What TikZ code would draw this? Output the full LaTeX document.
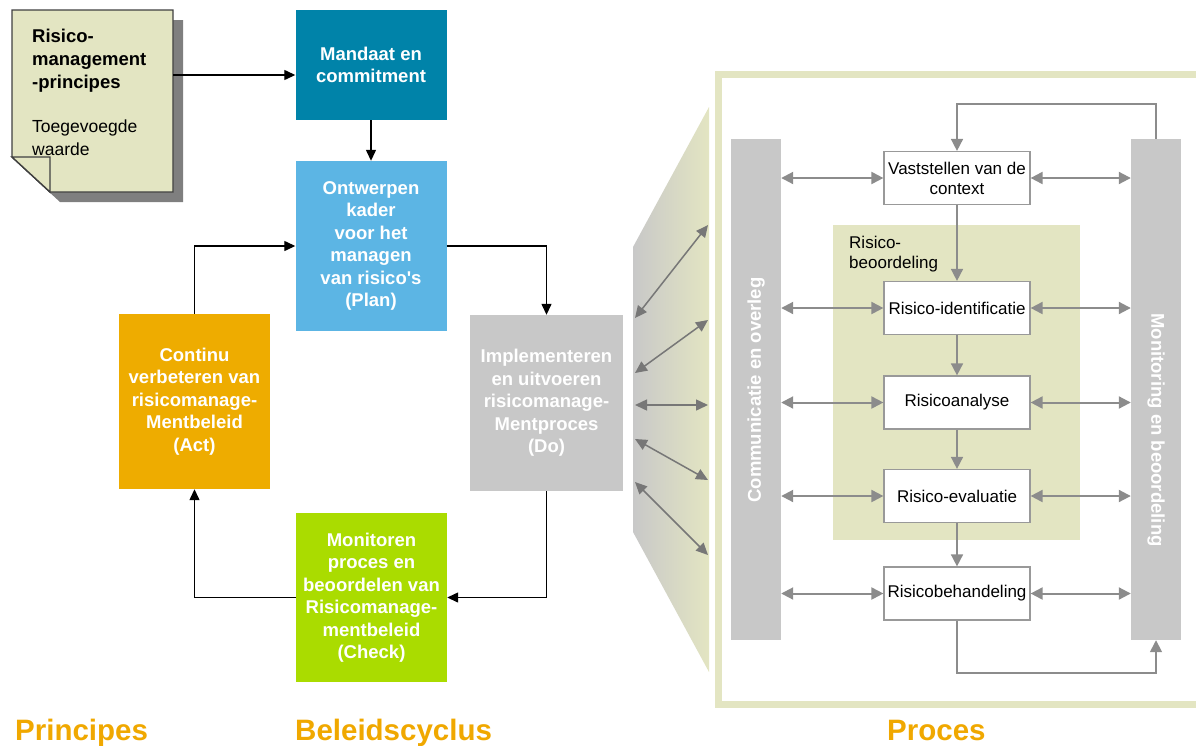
\documentclass[tikz,border=0pt]{standalone}
\usepackage{fontspec}
\setmainfont{Liberation Sans}
\usetikzlibrary{arrows.meta,positioning,calc}

\definecolor{colorMAND}{HTML}{0083A9}
\definecolor{colorPLAN}{HTML}{5CB5E4}
\definecolor{colorACT}{HTML}{EEAC00}
\definecolor{colorDO}{HTML}{C8C8C8}
\definecolor{colorCHECK}{HTML}{AADC00}
\definecolor{colorBEIGE}{HTML}{E3E5C2}
\definecolor{colorLABEL}{HTML}{F0A800}
\definecolor{colorSHADOW}{HTML}{7F7F7F}
\definecolor{colorARR}{HTML}{8C8C8C}
\definecolor{colorBORDER}{HTML}{999999}
\colorlet{colorBAR}{colorDO}
\tikzset{
   every path/.style={>={Triangle[length=11pt,width=10pt]}},
   cyc/.style={->,color=black,line width=1.3pt},
   bi/.style={<->,color=colorARR,line width=2pt,>={Triangle[length=12pt,width=12pt]}},
   fl/.style={->,color=colorARR,line width=1.6pt,>={Triangle[length=12pt,width=12pt]}},
   fan/.style={<->,color=colorARR!85!black,line width=1.5pt,>={Triangle[length=12pt,width=11pt]}},
   note/.style={fill=colorBEIGE,draw=black!75,line width=1.4pt,line join=miter},
   cbox/.style={inner sep=0pt,align=center,text=white,minimum width=151pt,
     font=\bfseries\fontsize{18.5}{22.5}\selectfont},
   pbox/.style={draw=colorBORDER,line width=1.2pt,fill=white,minimum width=146pt,
     minimum height=53pt,inner sep=0pt,align=center,font=\fontsize{17}{20}\selectfont},
   bar/.style={fill=colorBAR,minimum width=50pt,minimum height=501pt,inner sep=0pt},
   bartext/.style={text=white,inner sep=0pt,font=\bfseries\fontsize{18.5}{20}\selectfont},
   lbl/.style={anchor=base west,inner sep=0pt,text=colorLABEL,
     font=\bfseries\fontsize{29.5}{32}\selectfont},
 }
\newcommand{\dbi}[2]{\draw[bi] (#1) -- (#2)}
\newcommand{\dfl}[2]{\draw[fl] (#1) -- (#2)}
\newcommand{\dfan}[2]{\draw[fan] (#1) -- (#2)}

\begin{document}
\begin{tikzpicture}[x=1pt,y=-1pt]
      \useasboundingbox (0,0) rectangle (1196,745);

      % principes
      \fill[colorSHADOW] (22,20) -- (183,20) -- (183,202) -- (60,202) -- (22,167) -- cycle;
      \draw[note] (12,10) -- (173,10) -- (173,192) -- (50,192) -- (12,157) -- cycle;
      \draw[note] (12,157) -- (50,157) -- (50,192) -- cycle;
      \node[anchor=north west,inner sep=0pt,align=left,font=\bfseries\fontsize{18.5}{23}\selectfont]
        (PRINH) at (32,29) {Risico-\\management\\-principes};
      \node[anchor=north west,inner sep=0pt,align=left,font=\fontsize{17.5}{23}\selectfont]
        (PRINW) at (32,120) {Toegevoegde\\waarde};
      \coordinate (PRINE) at (173,75);

      % beleidscyclus
      \node[cbox,fill=colorMAND,minimum height=110pt] (MAND) at (371,65) {Mandaat en\\commitment};
      \node[cbox,fill=colorPLAN,minimum height=170pt] (PLAN) at (371,246)
        {Ontwerpen\\kader\\voor het\\managen\\van risico\textquotesingle s\\(Plan)};
      \node[cbox,fill=colorDO,minimum height=176pt,minimum width=153pt] (DO) at (546.5,403)
        {Implementeren\\en uitvoeren\\risicomanage-\\Mentproces\\(Do)};
      \node[cbox,fill=colorCHECK,minimum height=169pt] (CHECK) at (371.5,597.5)
        {Monitoren\\proces en\\beoordelen van\\Risicomanage-\\mentbeleid\\(Check)};
      \node[cbox,fill=colorACT,minimum height=175pt] (ACT) at (194.5,401.5)
        {Continu\\verbeteren van\\risicomanage-\\Mentbeleid\\(Act)};
      \draw[cyc] (PRINE) -- (MAND.west |- PRINE);
      \draw[cyc] (MAND) -- (PLAN);
      \draw[cyc] (PLAN.east) -| (DO.north);
      \draw[cyc] (DO.south) |- (CHECK.east);
      \draw[cyc] (CHECK.west) -| (ACT.south);
      \draw[cyc] (ACT.north) |- (PLAN.west);

      % uitvergroting naar het proces
      \shade[left color=colorBAR,right color=colorBEIGE] (633,247) -- (709,107) -- (709,672) -- (633,532) -- cycle;
      \coordinate (FL1) at (635,318); \coordinate (FR1) at (708,225);
      \coordinate (FL2) at (635,373); \coordinate (FR2) at (708,320);
      \coordinate (FL3) at (635,405); \coordinate (FR3) at (708,405);
      \coordinate (FL4) at (635,439); \coordinate (FR4) at (708,480);
      \coordinate (FL5) at (635,482); \coordinate (FR5) at (708,555);
      \dfan{FL1}{FR1};
      \dfan{FL2}{FR2};
      \dfan{FL3}{FR3};
      \dfan{FL4}{FR4};
      \dfan{FL5}{FR5};

      % proces
      \draw[colorBEIGE,line width=6.5pt] (1200,74.5) -- (718.5,74.5) -- (718.5,704.5) -- (1200,704.5);
      \node[fill=colorBEIGE,minimum width=247pt,minimum height=315pt,inner sep=0pt] (BEOORD) at (956.5,382.5) {};
      \node[anchor=north west,inner sep=0pt,align=left,font=\fontsize{17}{20}\selectfont]
        (BEOORDT) at (849,236) {Risico-\\beoordeling};

      \node[bar] (COMM) at (756,389.5) {};
      \node[bar] (MONI) at (1156,389.5) {};
      \node[bartext,rotate=90] (COMMT) at (756,390) {Communicatie en overleg};
      \node[bartext,rotate=-90] (MONIT) at (1156,430) {Monitoring en beoordeling};

      \node[pbox] (VAST) at (957,178) {Vaststellen van de\\context};
      \node[pbox] (IDENT) at (957,308) {Risico-identificatie};
      \node[pbox] (ANAL) at (957,402.5) {Risicoanalyse};
      \node[pbox] (EVAL) at (957,496) {Risico-evaluatie};
      \node[pbox] (BEH) at (957,593.5) {Risicobehandeling};

      \dfl{VAST}{IDENT};
      \dfl{IDENT}{ANAL};
      \dfl{ANAL}{EVAL};
      \dfl{EVAL}{BEH};
      \draw[fl] (MONI.north) -- (MONI.north |- 0,104) -| (VAST.north);
      \draw[fl] (BEH.south) -- (BEH.south |- 0,673) -| (MONI.south);

      \dbi{COMM.east |- VAST}{VAST.west};
      \dbi{VAST.east}{MONI.west |- VAST};
      \dbi{COMM.east |- IDENT}{IDENT.west};
      \dbi{IDENT.east}{MONI.west |- IDENT};
      \dbi{COMM.east |- ANAL}{ANAL.west};
      \dbi{ANAL.east}{MONI.west |- ANAL};
      \dbi{COMM.east |- EVAL}{EVAL.west};
      \dbi{EVAL.east}{MONI.west |- EVAL};
      \dbi{COMM.east |- BEH}{BEH.west};
      \dbi{BEH.east}{MONI.west |- BEH};

      % kopjes
      \node[lbl] (LPRIN) at (15,740) {Principes};
      \node[lbl] (LBEL) at (295,740) {Beleidscyclus};
      \node[lbl] (LPROC) at (887,740) {Proces};
    \end{tikzpicture}
\end{document}
